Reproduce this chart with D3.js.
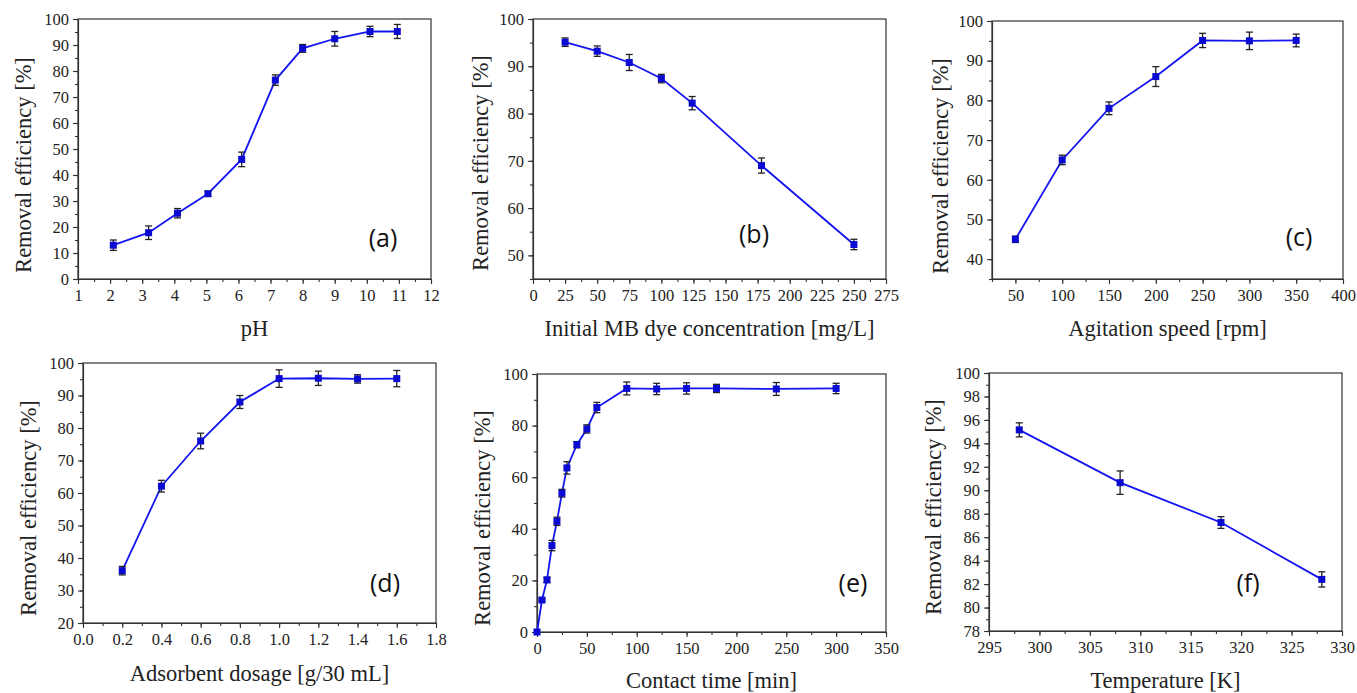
<!DOCTYPE html>
<html>
<head>
<meta charset="utf-8">
<script src="https://cdn.jsdelivr.net/npm/d3@7"></script>
<style>
body { margin: 0; background: #fff; }
svg { display: block; }
</style>
</head>
<body>
<script>
// (a) pH
var phX   = [2.1, 3.2, 4.1, 5.05, 6.1, 7.15, 8.0, 9.0, 10.1, 10.95];
var phY   = [13.0, 17.8, 25.3, 32.8, 46.0, 76.5, 88.7, 92.4, 95.2, 95.2];
var phErr = [2.0, 2.6, 1.8, 1.0, 2.8, 2.0, 1.5, 2.8, 2.0, 2.7];
var phXTicks = [1, 2, 3, 4, 5, 6, 7, 8, 9, 10, 11, 12];
var phYTicks = [0, 10, 20, 30, 40, 50, 60, 70, 80, 90, 100];

// (b) initial concentration
var concX   = [25, 50, 75, 100, 124, 178, 250];
var concY   = [95.1, 93.2, 90.8, 87.4, 82.2, 69.0, 52.3];
var concErr = [0.9, 1.1, 1.7, 0.9, 1.4, 1.6, 1.1];
var concXTicks = [0, 25, 50, 75, 100, 125, 150, 175, 200, 225, 250, 275];
var concYTicks = [50, 60, 70, 80, 90, 100];

// (c) agitation speed
var speedX   = [50, 100, 150, 200, 250, 300, 350];
var speedY   = [45.0, 65.0, 78.0, 86.0, 95.1, 95.0, 95.1];
var speedErr = [0.8, 1.2, 1.6, 2.5, 1.8, 2.2, 1.6];
var speedXTicks = [50, 100, 150, 200, 250, 300, 350, 400];
var speedYTicks = [40, 50, 60, 70, 80, 90, 100];

// (d) adsorbent dosage
var doseX   = [0.2, 0.4, 0.6, 0.8, 1.0, 1.2, 1.4, 1.6];
var doseY   = [36.1, 62.1, 76.0, 88.0, 95.2, 95.3, 95.1, 95.2];
var doseErr = [1.3, 1.8, 2.4, 2.0, 2.7, 2.2, 1.3, 2.5];
var doseXTicks = [0.0, 0.2, 0.4, 0.6, 0.8, 1.0, 1.2, 1.4, 1.6, 1.8];
var doseYTicks = [20, 30, 40, 50, 60, 70, 80, 90, 100];

// (e) contact time
var timeX   = [0, 5, 10, 15, 20, 25, 30, 40, 50, 60, 90, 120, 150, 180, 240, 300];
var timeY   = [0, 12.4, 20.2, 33.5, 42.9, 53.8, 63.6, 72.6, 78.7, 87.0, 94.4, 94.2, 94.4, 94.4, 94.2, 94.4];
var timeErr = [0, 0.5, 1.0, 2.0, 1.6, 1.5, 2.4, 1.2, 1.6, 2.0, 2.5, 2.2, 2.2, 1.6, 2.5, 2.0];
var timeXTicks = [0, 50, 100, 150, 200, 250, 300, 350];
var timeYTicks = [0, 20, 40, 60, 80, 100];

// (f) temperature
var tempX   = [298, 308, 318, 328];
var tempY   = [95.15, 90.65, 87.25, 82.4];
var tempErr = [0.6, 1.0, 0.5, 0.65];
var tempXTicks = [295, 300, 305, 310, 315, 320, 325, 330];
var tempYTicks = [78, 80, 82, 84, 86, 88, 90, 92, 94, 96, 98, 100];

var intFmt = d3.format("d");

var panels = [
  {x: phX, y: phY, err: phErr, xTicks: phXTicks, yTicks: phYTicks, xDom: [1, 12], yDom: [0, 100], xMinor: 0.5, yMinor: 5,
   box: [78, 19, 431, 279], label: "(a)", labPos: [383, 247], xTitle: "pH", xTitleY: 328, yTitleX: 23, yTitleY: 165, xFmt: intFmt},
  {x: concX, y: concY, err: concErr, xTicks: concXTicks, yTicks: concYTicks, xDom: [0, 275], yDom: [45, 100], xMinor: 12.5, yMinor: 5,
   box: [533, 19, 886, 279], label: "(b)", labPos: [754, 243], xTitle: "Initial MB dye concentration [mg/L]", xTitleY: 328, yTitleX: 480, yTitleY: 163, xFmt: intFmt},
  {x: speedX, y: speedY, err: speedErr, xTicks: speedXTicks, yTicks: speedYTicks, xDom: [25, 400], yDom: [35, 100], xMinor: 25, yMinor: 5,
   box: [992, 21, 1343, 279], label: "(c)", labPos: [1299, 246], xTitle: "Agitation speed [rpm]", xTitleY: 328, yTitleX: 940, yTitleY: 166, xFmt: intFmt},
  {x: doseX, y: doseY, err: doseErr, xTicks: doseXTicks, yTicks: doseYTicks, xDom: [0, 1.8], yDom: [20, 100], xMinor: 0.1, yMinor: 5,
   box: [83, 363, 436, 623], label: "(d)", labPos: [385, 592], xTitle: "Adsorbent dosage [g/30 mL]", xTitleY: 673, yTitleX: 28, yTitleY: 508, xFmt: d3.format(".1f")},
  {x: timeX, y: timeY, err: timeErr, xTicks: timeXTicks, yTicks: timeYTicks, xDom: [0, 350], yDom: [0, 100], xMinor: 25, yMinor: 10,
   box: [537, 374, 886, 632], label: "(e)", labPos: [853, 592], xTitle: "Contact time [min]", xTitleY: 680, yTitleX: 482, yTitleY: 518, xFmt: intFmt},
  {x: tempX, y: tempY, err: tempErr, xTicks: tempXTicks, yTicks: tempYTicks, xDom: [295, 330], yDom: [78, 100], xMinor: 2.5, yMinor: 1,
   box: [989, 373, 1342, 631], label: "(f)", labPos: [1248, 592], xTitle: "Temperature [K]", xTitleY: 680, yTitleX: 933, yTitleY: 507, xFmt: intFmt}
];

var serif = "'Liberation Serif', 'Times New Roman', serif";

var svg = d3.select("body").append("svg").attr("width", 1357).attr("height", 693);

function minorVals(dom, step) {
  var out = [];
  var n = Math.round((dom[1] - dom[0]) / step);
  for (var i = 0; i <= n; i++) out.push(dom[0] + i * step);
  return out;
}

function styleAxis(s) {
  s.attr("font-family", serif).attr("font-size", 16.5);
  s.selectAll(".tick line").attr("stroke", "#333").attr("stroke-width", 1.1);
  s.selectAll(".tick text").attr("fill", "#222");
  s.select(".domain").attr("stroke", "#333").attr("stroke-width", 1.2);
}

panels.forEach(function (p) {
  var x = d3.scaleLinear().domain(p.xDom).range([p.box[0], p.box[2]]);
  var y = d3.scaleLinear().domain(p.yDom).range([p.box[3], p.box[1]]);
  var g = svg.append("g");

  // frame
  g.append("rect").attr("x", p.box[0]).attr("y", p.box[1])
    .attr("width", p.box[2] - p.box[0]).attr("height", p.box[3] - p.box[1])
    .attr("fill", "none").attr("stroke", "#333").attr("stroke-width", 1.2);

  // minor ticks
  g.append("g").attr("transform", "translate(0," + p.box[3] + ")")
    .call(d3.axisBottom(x).tickValues(minorVals(p.xDom, p.xMinor)).tickFormat("").tickSizeInner(3).tickSizeOuter(0))
    .call(styleAxis).call(function (s) { s.select(".domain").remove(); });
  g.append("g").attr("transform", "translate(" + p.box[0] + ",0)")
    .call(d3.axisLeft(y).tickValues(minorVals(p.yDom, p.yMinor)).tickFormat("").tickSizeInner(3).tickSizeOuter(0))
    .call(styleAxis).call(function (s) { s.select(".domain").remove(); });

  // major ticks
  g.append("g").attr("transform", "translate(0," + p.box[3] + ")")
    .call(d3.axisBottom(x).tickValues(p.xTicks).tickFormat(p.xFmt).tickSizeInner(5).tickSizeOuter(0).tickPadding(5))
    .call(styleAxis);
  g.append("g").attr("transform", "translate(" + p.box[0] + ",0)")
    .call(d3.axisLeft(y).tickValues(p.yTicks).tickFormat(intFmt).tickSizeInner(5).tickSizeOuter(0).tickPadding(4))
    .call(styleAxis);

  var pts = p.x.map(function (d, i) { return {x: d, y: p.y[i], e: p.err[i]}; });

  // line
  g.append("path").datum(pts)
    .attr("d", d3.line().x(function (d) { return x(d.x); }).y(function (d) { return y(d.y); }))
    .attr("fill", "none").attr("stroke", "#1414f0").attr("stroke-width", 1.8);

  // error bars
  var eb = g.selectAll(".eb").data(pts.filter(function (d) { return d.e > 0; })).enter().append("g");
  eb.append("line")
    .attr("x1", function (d) { return x(d.x); }).attr("x2", function (d) { return x(d.x); })
    .attr("y1", function (d) { return y(d.y - d.e); }).attr("y2", function (d) { return y(d.y + d.e); })
    .attr("stroke", "#222").attr("stroke-width", 1.3);
  [-1, 1].forEach(function (s) {
    eb.append("line")
      .attr("x1", function (d) { return x(d.x) - 3.5; }).attr("x2", function (d) { return x(d.x) + 3.5; })
      .attr("y1", function (d) { return y(d.y + s * d.e); }).attr("y2", function (d) { return y(d.y + s * d.e); })
      .attr("stroke", "#222").attr("stroke-width", 1.3);
  });

  // markers
  g.selectAll(".pt").data(pts).enter().append("rect")
    .attr("x", function (d) { return x(d.x) - 3.5; }).attr("y", function (d) { return y(d.y) - 3.5; })
    .attr("width", 7).attr("height", 7).attr("fill", "#0a0ad0");

  // panel label
  g.append("text").attr("x", p.labPos[0]).attr("y", p.labPos[1]).attr("text-anchor", "middle")
    .attr("font-family", "'Open Sans', sans-serif").attr("font-size", 25).attr("fill", "#111")
    .text(p.label);

  // axis titles
  g.append("text").attr("x", (p.box[0] + p.box[2]) / 2).attr("y", p.xTitleY).attr("text-anchor", "middle")
    .attr("dominant-baseline", "central")
    .attr("font-family", serif).attr("font-size", 22.5).attr("fill", "#222")
    .text(p.xTitle);
  g.append("text").attr("transform", "translate(" + p.yTitleX + "," + p.yTitleY + ") rotate(-90)")
    .attr("text-anchor", "middle").attr("dominant-baseline", "central")
    .attr("font-family", serif).attr("font-size", 22.5).attr("fill", "#222")
    .text("Removal efficiency [%]");
});
</script>
</body>
</html>
